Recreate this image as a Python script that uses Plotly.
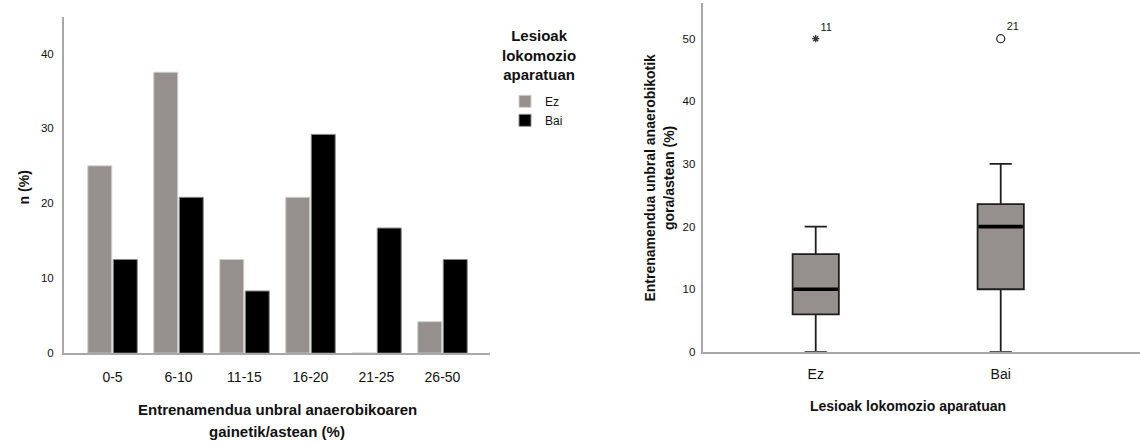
import plotly.graph_objects as go

# Weekly training time above the anaerobic threshold, share of each group (%)
ranges = ["0-5", "6-10", "11-15", "16-20", "21-25", "26-50"]
pct_ez = [25.0, 37.5, 12.5, 20.8, 0.0, 4.2]
pct_bai = [12.5, 20.8, 8.3, 29.2, 16.7, 12.5]

# Box-plot summary per injury group
groups = ["Ez", "Bai"]
q1 = [6.0, 10.0]
median = [10.0, 20.0]
q3 = [15.6, 23.6]
lower_whisker = [0.0, 0.0]
upper_whisker = [20.0, 30.0]
outlier_value = [50.0, 50.0]
outlier_case = ["11", "21"]
outlier_symbol = ["asterisk-open", "circle-open"]

left_ticks = [0, 10, 20, 30, 40]
right_ticks = [0, 10, 20, 30, 40, 50]

W, H = 1140, 443
GRAY = "#958f8e"
AXIS = "#a8a8a8"
INK = "#111111"
FONT = "Liberation Sans, Arial, sans-serif"


def px(x):
    return x / W


def py(y):
    return 1 - y / H


fig = go.Figure()

fig.add_trace(go.Bar(
    x=ranges, y=pct_ez, name="Ez",
    marker=dict(color=GRAY, line=dict(color="#cfcfcf", width=1)),
    xaxis="x", yaxis="y",
))
fig.add_trace(go.Bar(
    x=ranges, y=pct_bai, name="Bai",
    marker=dict(color="#000000", line=dict(color="#8a8a8a", width=1)),
    xaxis="x", yaxis="y",
))

box_width = 0.25
fig.add_trace(go.Box(
    x=list(range(len(groups))),
    q1=q1, median=median, q3=q3,
    lowerfence=lower_whisker, upperfence=upper_whisker,
    width=box_width, whiskerwidth=0.48,
    fillcolor=GRAY, line=dict(color="#1e1e1e", width=1.8),
    boxpoints=False, showlegend=False, hoverinfo="skip",
    xaxis="x2", yaxis="y2",
))

# thick median bars drawn over the boxes
for i, m in enumerate(median):
    half = box_width / 2 - 0.006
    fig.add_trace(go.Scatter(
        x=[i - half, i + half], y=[m, m], mode="lines",
        line=dict(color="#000000", width=3.6),
        showlegend=False, hoverinfo="skip", xaxis="x2", yaxis="y2",
    ))

for i, (v, case, sym) in enumerate(zip(outlier_value, outlier_case, outlier_symbol)):
    fig.add_trace(go.Scatter(
        x=[i], y=[v], mode="markers+text",
        marker=dict(symbol=sym, size=6 if i == 0 else 8,
                    color="#333333", line=dict(color="#333333", width=1.3)),
        text=[case], textposition="top right",
        textfont=dict(family=FONT, size=11, color="#222222"),
        showlegend=False, hoverinfo="skip", xaxis="x2", yaxis="y2",
    ))

axis_common = dict(showline=True, linecolor=AXIS, linewidth=2, showgrid=False,
                   zeroline=False, ticks="", fixedrange=True)

annotations = [
    dict(text="<b>n (%)</b>", x=px(24), y=py(190), textangle=-90,
         font=dict(size=14)),
    dict(text="<b>Entrenamendua unbral anaerobikoaren</b>", x=px(277), y=py(415),
         font=dict(size=15)),
    dict(text="<b>gainetik/astean (%)</b>", x=px(277), y=py(437),
         font=dict(size=15)),
    dict(text="<b>Lesioak<br>lokomozio<br>aparatuan</b>", x=px(539), y=py(56),
         font=dict(size=15)),
    dict(text="<b>Entrenamendua unbral anaerobikotik<br>gora/astean (%)</b>",
         x=px(659), y=py(180), textangle=-90, font=dict(size=14)),
    dict(text="<b>Lesioak lokomozio aparatuan</b>", x=px(908), y=py(412),
         font=dict(size=14)),
]
for a in annotations:
    a.update(xref="paper", yref="paper", xanchor="center", yanchor="middle",
             showarrow=False)
    a["font"].update(family=FONT, color=INK)

fig.update_layout(
    width=W, height=H,
    margin=dict(l=0, r=0, t=0, b=0),
    paper_bgcolor="white", plot_bgcolor="white",
    font=dict(family=FONT, color=INK),
    barmode="group", bargap=0.227, bargroupgap=0.06,
    showlegend=True,
    legend=dict(x=px(505), y=py(88), xanchor="left", yanchor="top",
                font=dict(family=FONT, size=12, color=INK),
                bgcolor="rgba(0,0,0,0)", itemclick=False, itemdoubleclick=False,
                tracegroupgap=0),
    xaxis=dict(domain=[px(64), px(490)], range=[-0.735, 5.72], type="category",
               anchor="y", tickfont=dict(size=14, family=FONT, color=INK),
               ticklabelstandoff=10, **axis_common),
    yaxis=dict(domain=[py(358), py(17)], range=[0, 44.9], tickvals=left_ticks,
               anchor="x", tickfont=dict(size=11.5, family=FONT, color=INK),
               ticklabelstandoff=6, **axis_common),
    xaxis2=dict(domain=[px(702.7), 1.0], range=[-0.611, 1.753],
                tickvals=list(range(len(groups))), ticktext=groups,
                anchor="y2", tickfont=dict(size=14, family=FONT, color=INK),
                ticklabelstandoff=8, **axis_common),
    yaxis2=dict(domain=[py(356.7), py(3)], range=[0, 55.7], tickvals=right_ticks,
                anchor="x2", tickfont=dict(size=11.5, family=FONT, color=INK),
                ticklabelstandoff=3, **axis_common),
    annotations=annotations,
)

fig.write_html("out.html", config=dict(displayModeBar=False, staticPlot=True))
